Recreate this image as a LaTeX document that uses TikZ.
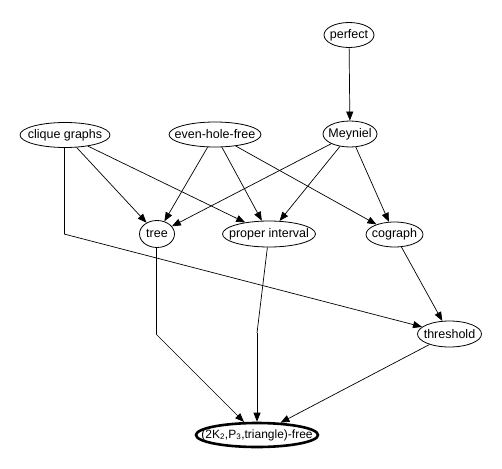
\documentclass[tikz,border=0pt]{standalone}
\usepackage{fontspec}
\setmainfont{Liberation Sans}
\usetikzlibrary{arrows.meta,shapes.geometric}
\newcommand{\lbl}[1]{\makebox[0pt]{#1}}
\begin{document}
\begin{tikzpicture}[x=1pt,y=-1pt,
  cls/.style={ellipse,draw,line width=0.8pt,inner sep=0pt,font=\fontsize{12.5}{14}\selectfont},
  edge/.style={line width=0.7pt,-{Triangle[length=9pt,width=7pt]}},
  seg/.style={line width=0.7pt}]
\useasboundingbox (0,0) rectangle (502,468);
\node[cls,minimum width=50pt,minimum height=25pt] (pf) at (349,35) {\lbl{perfect}};
\node[cls,minimum width=54pt,minimum height=26pt] (me) at (350,134) {\lbl{Meyniel}};
\node[cls,minimum width=90pt,minimum height=25pt] (cg) at (65,135) {\lbl{clique graphs}};
\node[cls,minimum width=92pt,minimum height=25pt] (eh) at (215,134.5) {\lbl{even-hole-free}};
\node[cls,minimum width=35pt,minimum height=27pt] (tr) at (157,234) {\lbl{tree}};
\node[cls,minimum width=93pt,minimum height=26pt] (pi) at (269,234) {\lbl{proper interval}};
\node[cls,minimum width=57pt,minimum height=25pt] (co) at (394.5,234.5) {\lbl{cograph}};
\node[cls,minimum width=64pt,minimum height=26pt] (th) at (449.5,334) {\lbl{threshold}};
\node[cls,line width=2.6pt,minimum width=122pt,minimum height=24pt,font=\fontsize{12}{14}\selectfont] (bt) at (257,435) {\lbl{(2K\textsubscript{2},P\textsubscript{3},triangle)-free}};
\coordinate (c1) at (64,234);
\coordinate (c2) at (156,334);
\coordinate (c3) at (257,333);
\draw[edge] (pf) -- (me);
\draw[edge] (cg) -- (tr);
\draw[edge] (cg) -- (pi);
\draw[seg] (cg.south -| c1) -- (c1);
\draw[edge] (c1) -- (th);
\draw[edge] (eh) -- (tr);
\draw[edge] (eh) -- (pi);
\draw[edge] (eh) -- (co);
\draw[edge] (me) -- (tr);
\draw[edge] (me) -- (pi);
\draw[edge] (me) -- (co);
\draw[edge] (co) -- (th);
\draw[seg] (tr.south -| c2) -- (c2);
\draw[edge] (c2) -- (bt);
\draw[seg] (pi) -- (c3);
\draw[edge] (c3) -- (bt);
\draw[edge] (th) -- (bt);
\end{tikzpicture}
\end{document}
